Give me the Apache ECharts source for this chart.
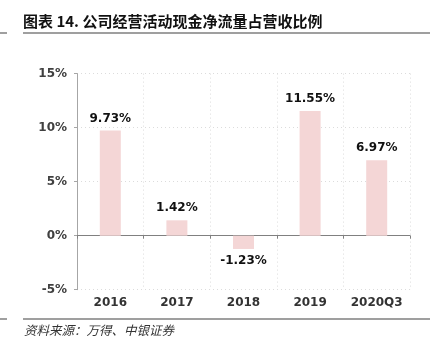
<!DOCTYPE html>
<html><head><meta charset="utf-8">
<script src="https://cdn.jsdelivr.net/npm/echarts@6/dist/echarts.min.js"></script>
<style>html,body{margin:0;padding:0;background:#fff}#c{width:437px;height:347px}</style>
</head><body><div id="c"></div>
<script>
const categories = ['2016', '2017', '2018', '2019', '2020Q3'];
const values = [9.73, 1.42, -1.23, 11.55, 6.97];
const yTicks = [-5, 0, 5, 10, 15];
const titleText = '图表 14. 公司经营活动现金净流量占营收比例';
const sourceText = '资料来源：万得、中银证券';

const chart = echarts.init(document.getElementById('c'), null, {renderer: 'canvas'});
const labelFont = 'DejaVu Sans';
const barData = values.map(v => ({value: v, label: {position: v < 0 ? 'bottom' : 'top'}}));
chart.setOption({
  animation: false,
  backgroundColor: '#fff',
  graphic: [
    {type: 'text', left: 23, top: 14, style: {text: titleText, font: 'bold 15px "Noto Sans CJK SC", sans-serif', fill: '#111'}},
    {type: 'line', shape: {x1: 23, y1: 33, x2: 430, y2: 33}, style: {stroke: '#7f7f7f', lineWidth: 1.5}},
    {type: 'line', shape: {x1: 0, y1: 33, x2: 7, y2: 33}, style: {stroke: '#7f7f7f', lineWidth: 1.5}},
    {type: 'line', shape: {x1: 23, y1: 319, x2: 430, y2: 319}, style: {stroke: '#7f7f7f', lineWidth: 1.5}},
    {type: 'line', shape: {x1: 0, y1: 319, x2: 7, y2: 319}, style: {stroke: '#7f7f7f', lineWidth: 1.5}},
    {type: 'text', left: 24, top: 324, style: {text: sourceText, font: 'italic 12.5px "Noto Sans CJK SC", sans-serif', fill: '#333'}}
  ],
  grid: {left: 77, right: 27, top: 73.6, bottom: 57.3, containLabel: false},
  xAxis: [
    {type: 'category', data: categories, position: 'bottom',
     axisLine: {show: false, onZero: false}, axisTick: {show: false},
     axisLabel: {interval: 0, fontFamily: labelFont, fontWeight: 'bold', fontSize: 12, color: '#333', margin: 7},
     splitLine: {show: true, interval: 0, lineStyle: {color: '#dcdcdc', type: [1, 3], width: 1}}},
    {type: 'category', data: categories, position: 'bottom',
     axisLine: {show: true, onZero: true, lineStyle: {color: '#808080', width: 1}},
     axisTick: {show: true, interval: 0, length: 3, lineStyle: {color: '#808080'}},
     axisLabel: {show: false}, splitLine: {show: false}}
  ],
  yAxis: {
    type: 'value', min: yTicks[0], max: yTicks[yTicks.length - 1], interval: 5,
    axisLine: {show: true, lineStyle: {color: '#a6a6a6', width: 1}},
    axisTick: {show: true, length: 3, lineStyle: {color: '#a6a6a6'}},
    axisLabel: {formatter: v => v + '%', fontFamily: labelFont, fontWeight: 'bold', fontSize: 12, color: '#404040', margin: 10},
    splitLine: {show: true, lineStyle: {color: '#dcdcdc', type: [1, 3], width: 1}}
  },
  series: [{
    type: 'bar', xAxisIndex: 0, data: barData, barWidth: 21,
    itemStyle: {color: '#f4d6d6'},
    label: {show: true, formatter: p => p.value.toFixed(2) + '%', fontFamily: labelFont, fontWeight: 'bold', fontSize: 12, color: '#111', distance: 6}
  }]
});
</script></body></html>
